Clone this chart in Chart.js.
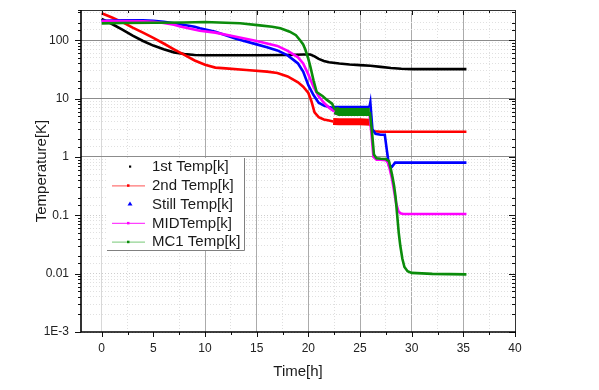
<!DOCTYPE html>
<html>
<head>
<meta charset="utf-8">
<script src="https://cdn.jsdelivr.net/npm/chart.js@4.4.1/dist/chart.umd.min.js"></script>
<style>
  body { margin: 0; background: #fff; }
</style>
</head>
<body>
<canvas id="tempChart" width="599" height="390"></canvas>
<script>
// series names (legend)
const seriesNames = ['1st Temp[k]', '2nd Temp[k]', 'Still Temp[k]', 'MIDTemp[k]', 'MC1 Temp[k]'];

// time [h] and temperature [K]
const time1st = [0, 0.5, 1, 2, 3, 4, 5, 6, 7, 8, 9, 10, 12, 15, 18, 19.5, 20.2, 20.6, 21, 21.5, 22, 23, 24, 25, 26, 27, 28, 29, 30, 32, 35.3];
const temp1st = [232, 210, 190, 152, 120, 97, 81, 70, 62, 58, 56, 55.5, 55.5, 55.5, 56, 57, 57, 53, 48, 44, 42, 40, 38.5, 37.5, 36.5, 35, 33.5, 32.5, 32, 32, 32];

const time2nd = [0, 1, 2, 3, 4, 5, 6, 7, 8, 9, 10, 11, 12, 14, 16, 17, 18, 19, 19.5, 20, 20.3, 20.6, 21, 21.5, 22,
  22.4, 23, 24, 25, 26, 26.15, 26.4, 27, 30, 35.3];
const temp2nd = [290, 245, 205, 165, 135, 110, 88, 70, 56, 45, 38, 34, 33, 31, 29, 27.5, 24, 19, 16, 12.5, 9, 5.8, 4.8, 4.4, 4.2,
  4.05, 4.0, 4.0, 4.0, 3.95, 2.9, 2.75, 2.7, 2.7, 2.7];

const timeStill = [0, 2, 4, 5, 6, 7, 8, 9, 9.5, 11, 13, 15, 16, 17, 18, 18.5, 19, 19.5, 20, 20.5, 21, 21.5, 22,
  22.3, 23, 24, 25, 25.9, 26.0, 26.2, 26.5, 27, 27.4, 27.6, 27.8, 28.1, 28.4, 29, 32, 35.3];
const tempStill = [215, 220, 220, 216, 208, 195, 182, 170, 160, 140, 106, 85, 76, 67, 55, 47, 40, 29, 17, 11.5, 8.5, 7.6, 7.2,
  7.0, 7.0, 7.0, 7.0, 7.0, 8.6, 3.0, 2.5, 2.4, 2.4, 1.3, 0.72, 0.68, 0.8, 0.8, 0.8, 0.8];

const timeMid = [0, 2, 4, 5, 6, 7, 7.6, 9.5, 11, 13, 15, 17, 18, 19, 19.5, 20, 20.5, 21, 21.5, 22,
  22.5, 23, 24, 25, 25.9, 26.1, 26.3, 26.6, 27, 27.5, 27.7, 27.9, 28.1, 28.3, 28.5, 28.7, 28.9,
  29.2, 32, 35.3];
const tempMid = [214, 214, 212, 208, 198, 185, 172, 145, 135, 115, 97, 80, 66, 51, 40, 26, 16, 11, 8.5, 7,
  6.0, 5.8, 5.8, 5.8, 5.8, 2.6, 1.0, 0.9, 0.9, 0.88, 0.8, 0.6, 0.42, 0.26, 0.16, 0.12, 0.108,
  0.105, 0.105, 0.105];

const timeMc1 = [0, 2, 5, 8, 10, 12, 13.4, 15.3, 16.5, 17.3, 18.2, 18.8, 19.2, 19.5, 19.7, 20, 20.2, 20.5, 20.8, 21.4, 21.8, 22.3,
  22.6, 23, 24, 25, 25.95, 26.15, 26.35, 26.6, 27, 27.5, 27.8, 28, 28.15, 28.3, 28.45, 28.6, 28.75, 28.9, 29.1, 29.3, 29.6, 30, 32, 35.3];
const tempMc1 = [195, 198, 200, 202, 205, 200, 196, 180, 170, 160, 140, 122, 100, 85, 70, 48, 35, 20.6, 13, 11, 9.5, 8.2,
  6.3, 5.9, 5.9, 5.9, 5.9, 2.8, 1.1, 0.95, 0.93, 0.92, 0.85, 0.6, 0.45, 0.32, 0.2, 0.1, 0.05, 0.03, 0.018, 0.013, 0.011, 0.0103, 0.0099, 0.0097];

// axis ticks
const xTickValues = [0, 2.5, 5, 7.5, 10, 12.5, 15, 17.5, 20, 22.5, 25, 27.5, 30, 32.5, 35, 37.5, 40];
const yDecades = [0.001, 0.01, 0.1, 1, 10, 100];
const yDecadeLabels = ['1E-3', '0.01', '0.1', '1', '10', '100'];

const colors = ['#000000', '#ff0000', '#0000ff', '#ff00ff', '#0b8c0b'];

// noisy plateau between ~22 and 26 h is drawn as a thick band
const bandFrom = [null, 22.4, 22.3, 22.5, 22.6];
const bandTo = [null, 26.0, 25.9, 25.9, 25.95];
const bandWidth = [0, 7, 4, 6, 8];

function pairs(xs, ys) {
  return xs.map((t, i) => ({ x: t, y: ys[i] }));
}

function isDecade(v) {
  const l = Math.log10(v);
  return Math.abs(l - Math.round(l)) < 1e-6;
}

Chart.defaults.font.family = '"Liberation Sans", Arial, sans-serif';
Chart.defaults.color = '#222';

// box round the plot and tick marks on all four sides
const framePlugin = {
  id: 'frame',
  afterDatasetsDraw(chart) {
    const { ctx, chartArea: a, scales } = chart;
    const x = scales.x, y = scales.y;
    ctx.save();
    ctx.strokeStyle = '#111';
    ctx.lineWidth = 1;
    ctx.beginPath();
    y.ticks.forEach(t => {
      if (t.value > y.max) return;
      const py = Math.round(y.getPixelForValue(t.value)) + 0.5;
      const len = isDecade(t.value) ? 6 : 3;
      ctx.moveTo(a.left - len, py); ctx.lineTo(a.left, py);
      ctx.moveTo(a.right - len, py); ctx.lineTo(a.right, py);
    });
    x.ticks.forEach(t => {
      const px = Math.round(x.getPixelForValue(t.value)) + 0.5;
      const len = t.value % 5 === 0 ? 5 : 3;
      ctx.moveTo(px, a.bottom); ctx.lineTo(px, a.bottom + len);
      ctx.moveTo(px, a.top); ctx.lineTo(px, a.top + len);
    });
    ctx.stroke();

    ctx.strokeStyle = '#333';
    ctx.lineWidth = 1;
    ctx.beginPath();
    ctx.moveTo(a.left, a.top + 0.5); ctx.lineTo(a.right + 0.5, a.top + 0.5);
    ctx.lineTo(a.right + 0.5, a.bottom);
    ctx.stroke();

    ctx.strokeStyle = '#000';
    ctx.lineWidth = 1.6;
    ctx.beginPath();
    ctx.moveTo(a.left, a.top); ctx.lineTo(a.left, a.bottom);
    ctx.lineTo(a.right + 1, a.bottom);
    ctx.stroke();
    ctx.restore();
  }
};

// legend box inside the plot, as in the original
const boxLegendPlugin = {
  id: 'boxLegend',
  afterDraw(chart) {
    const { ctx } = chart;
    const left = 107, top = 158, right = 244, bottom = 250;
    ctx.save();
    ctx.fillStyle = '#fff';
    ctx.fillRect(left, top, right - left, bottom - top);
    ctx.strokeStyle = '#808080';
    ctx.lineWidth = 1;
    ctx.beginPath();
    ctx.moveTo(right + 0.5, top);
    ctx.lineTo(right + 0.5, bottom + 0.5);
    ctx.lineTo(left, bottom + 0.5);
    ctx.stroke();

    const lineColors = [null, '#ff7575', null, '#ff40ff', '#92d392'];
    ctx.font = '15px "Liberation Sans", Arial, sans-serif';
    ctx.textBaseline = 'middle';
    seriesNames.forEach((name, i) => {
      const cy = 166.5 + i * 18.8;
      const col = chart.data.datasets[i].borderColor;
      if (lineColors[i]) {
        ctx.strokeStyle = lineColors[i];
        ctx.lineWidth = 1.2;
        ctx.beginPath();
        ctx.moveTo(112, cy + 0.5); ctx.lineTo(145, cy + 0.5);
        ctx.stroke();
        ctx.fillStyle = col;
        ctx.fillRect(127, cy - 1, 2.5, 2.5);
      } else if (i === 2) {
        ctx.fillStyle = col;
        ctx.beginPath();
        ctx.moveTo(130, cy - 2.5); ctx.lineTo(132.5, cy + 1.5); ctx.lineTo(127.5, cy + 1.5);
        ctx.closePath();
        ctx.fill();
      } else {
        ctx.fillStyle = col;
        ctx.fillRect(129, cy - 1, 2.2, 2.2);
      }
      ctx.fillStyle = '#1a1a1a';
      ctx.fillText(name, 152, cy + 0.5);
    });
    ctx.restore();
  }
};

const seriesTimes = [time1st, time2nd, timeStill, timeMid, timeMc1];
const seriesTemps = [temp1st, temp2nd, tempStill, tempMid, tempMc1];

new Chart(document.getElementById('tempChart').getContext('2d'), {
  type: 'scatter',
  data: {
    datasets: seriesNames.map((name, i) => ({
      label: name,
      data: pairs(seriesTimes[i], seriesTemps[i]),
      borderColor: colors[i],
      backgroundColor: colors[i],
      showLine: true,
      borderWidth: 2.6,
      pointRadius: 0,
      tension: 0,
      order: 5 - i,
      segment: {
        borderWidth: c => (bandFrom[i] !== null && c.p0.parsed.x >= bandFrom[i] - 1e-6 && c.p1.parsed.x <= bandTo[i] + 1e-6) ? bandWidth[i] : 2.6
      }
    }))
  },
  options: {
    responsive: false,
    animation: false,
    layout: { padding: { left: 0, top: 10, right: 84, bottom: 0 } },
    plugins: {
      legend: { display: false },
      tooltip: { enabled: false }
    },
    scales: {
      x: {
        type: 'linear',
        min: -2,
        max: 40,
        afterFit: s => { s.height = 58; s.paddingLeft = 0; s.paddingRight = 0; },
        afterBuildTicks: s => { s.ticks = xTickValues.map(v => ({ value: v })); },
        ticks: {
          autoSkip: false,
          maxRotation: 0,
          padding: 9,
          font: { size: 12 },
          color: '#222',
          callback: v => (v % 5 === 0 ? String(v) : '')
        },
        grid: {
          drawTicks: false,
          lineWidth: 1,
          color: c => {
            if (!c.tick) return 'rgba(0,0,0,0)';
            const v = c.tick.value;
            if (v % 5 !== 0) return '#dedede';
            if (v === 5) return 'rgba(0,0,0,0)';
            if (v === 0) return '#d8d8d8';
            return '#ababab';
          }
        },
        border: { display: false, dash: c => (c.tick && c.tick.value % 5 !== 0 ? [1, 2] : []) },
        title: {
          display: true,
          text: 'Time[h]',
          font: { size: 15 },
          color: '#1a1a1a',
          padding: { top: 0, bottom: 9 }
        }
      },
      y: {
        type: 'logarithmic',
        min: 0.001,
        max: 330,
        afterFit: s => { s.width = 81; s.paddingTop = 0; s.paddingBottom = 0; },
        ticks: {
          autoSkip: false,
          padding: 12,
          font: { size: 12 },
          color: '#222',
          callback: v => {
            const k = yDecades.findIndex(d => Math.abs(d - v) / d < 1e-6);
            return k >= 0 ? yDecadeLabels[k] : '';
          }
        },
        grid: {
          drawTicks: false,
          lineWidth: 1,
          color: c => {
            if (!c.tick) return 'rgba(0,0,0,0)';
            const v = c.tick.value;
            if (isDecade(v)) return v >= 1 ? '#8c8c8c' : '#cdcdcd';
            return '#e0e0e0';
          }
        },
        border: {
          display: false,
          dash: c => (c.tick && isDecade(c.tick.value) && c.tick.value >= 1 ? [] : [1, 2])
        },
        title: {
          display: true,
          text: 'Temperature[K]',
          font: { size: 15 },
          color: '#1a1a1a',
          padding: { top: 33, bottom: 0 }
        }
      }
    }
  },
  plugins: [framePlugin, boxLegendPlugin]
});
</script>
</body>
</html>
